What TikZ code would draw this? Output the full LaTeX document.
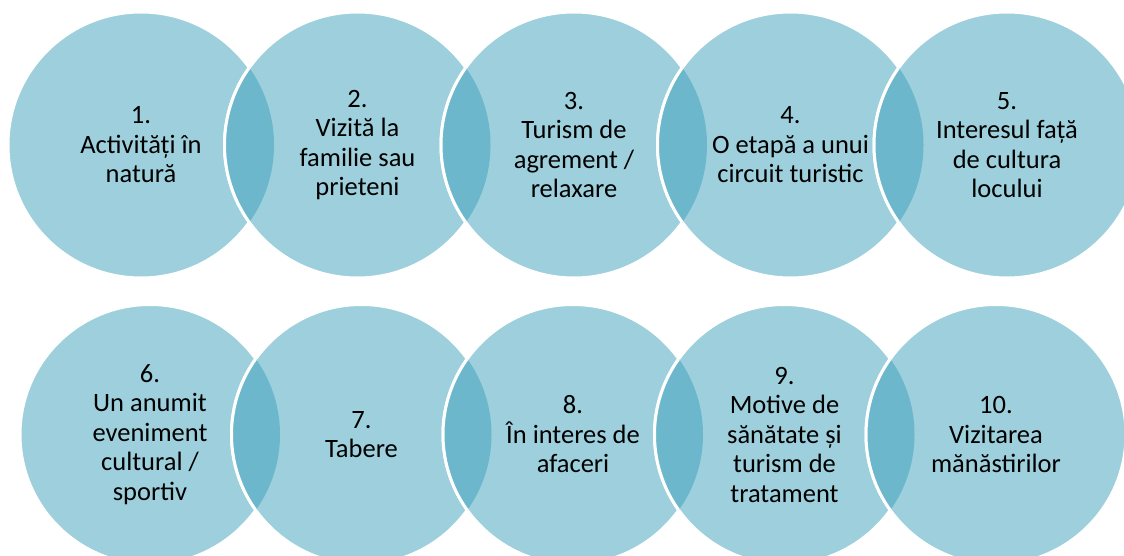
\documentclass[tikz,border=0pt]{standalone}
\usepackage{fontspec}
\setmainfont{Carlito}
\usepackage{xcolor}
\usepackage{tikz}
\definecolor{bubbleblue}{RGB}{157,208,220}
\definecolor{lensblue}{RGB}{108,183,204}

\begin{document}
\begin{tikzpicture}[
    x=1pt, y=-1pt,
    bubble/.style={circle, fill=bubbleblue, draw=white, line width=3pt,
                   minimum size=#1, inner sep=0pt},
    lens/.style={fill=lensblue, draw=white, line width=3pt},
    txt/.style={align=center, font=\fontsize{26.5}{29.5}\selectfont, text=black},
]

\clip (0,0) rectangle (1124,556);

% Row 1
\foreach \i/\x in {1/141, 2/357.5, 3/574, 4/790.5, 5/1007}
    \node[bubble=266pt] (c\i) at (\x,145) {};

% Row 2
\foreach \i/\x in {6/150, 7/361.5, 8/573, 9/784.5, 10/996}
    \node[bubble=260pt] (c\i) at (\x,434.5) {};

% Overlaps
\foreach \a/\b/\r in {1/2/133, 2/3/133, 3/4/133, 4/5/133,
                      6/7/130, 7/8/130, 8/9/130, 9/10/130} {
    \begin{scope}
        \clip (c\a.center) circle (\r);
        \path[lens] (c\b.center) circle (\r);
    \end{scope}
}

% Labels
\node[txt] (t1) at (c1) {1.\\Activități în\\natură};
\node[txt] (t2) at (c2) {2.\\Vizită la\\familie sau\\prieteni};
\node[txt] (t3) at (c3) {3.\\Turism de\\agrement /\\relaxare};
\node[txt] (t4) at (c4) {4.\\O etapă a unui\\circuit turistic};
\node[txt] (t5) at (c5) {5.\\Interesul față\\de cultura\\locului};
\node[txt] (t6) at (c6) {6.\\Un anumit\\eveniment\\cultural /\\sportiv};
\node[txt] (t7) at (c7) {7.\\Tabere};
\node[txt] (t8) at (c8) {8.\\În interes de\\afaceri};
\node[txt] (t9) at (c9) {9.\\Motive de\\sănătate și\\turism de\\tratament};
\node[txt] (t10) at (c10) {10.\\Vizitarea\\mănăstirilor};

\end{tikzpicture}
\end{document}
